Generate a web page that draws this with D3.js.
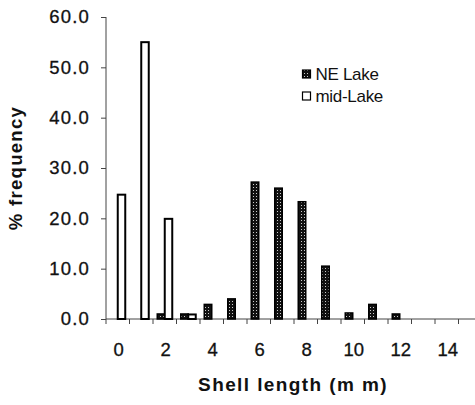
<!DOCTYPE html>
<html>
<head>
<meta charset="utf-8">
<script src="https://cdn.jsdelivr.net/npm/d3@7"></script>
<style>
  html, body { margin: 0; padding: 0; background: #fff; }
  svg { display: block; }
  text { font-family: "Liberation Sans", Arial, sans-serif; fill: #111; }
</style>
</head>
<body>
<svg id="chart" width="475" height="405"></svg>
<script>
const categories = [0, 1, 2, 3, 4, 5, 6, 7, 8, 9, 10, 11, 12, 13, 14, 15];
const neLake  = [0, 0, 1.0, 1.0, 2.9, 4.0, 27.2, 26.0, 23.3, 10.5, 1.2, 2.9, 1.0, 0, 0, 0];
const midLake = [24.7, 55.0, 19.9, 0.9, 0, 0, 0, 0, 0, 0, 0, 0, 0, 0, 0, 0];
const yTicks = [0, 10, 20, 30, 40, 50, 60];
const xLabels = [0, 2, 4, 6, 8, 10, 12, 14];
const seriesNames = ["NE Lake", "mid-Lake"];

const svg = d3.select("#chart");

// pattern for NE Lake bars
const defs = svg.append("defs");
const pat = defs.append("pattern").attr("id", "nePat")
  .attr("width", 3).attr("height", 3).attr("patternUnits", "userSpaceOnUse");
pat.append("rect").attr("width", 3).attr("height", 3).attr("fill", "#111");
pat.append("rect").attr("x", 1).attr("y", 1).attr("width", 1).attr("height", 1).attr("fill", "#ccc");

const x = d3.scaleBand().domain(categories).range([106, 482]).padding(0);
const y = d3.scaleLinear().domain([0, 60]).range([319, 17]);
const barW = 7.5;

// Y axis
const yAxis = svg.append("g").attr("transform", "translate(106,0)")
  .call(d3.axisLeft(y).tickValues(yTicks).tickFormat(d3.format(".1f")).tickSize(5).tickPadding(11));
yAxis.select(".domain").attr("stroke", "#444").attr("d", `M0,${y(60)}V${y(0)}`);
yAxis.selectAll(".tick line").attr("stroke", "#444");
yAxis.selectAll(".tick text").attr("font-size", 18.5).attr("letter-spacing", 1.2)
  .attr("stroke", "#111").attr("stroke-width", 0.3)
  .style("font-family", "'Liberation Sans', Arial, sans-serif").attr("fill", "#111");

// X axis
const xAxis = svg.append("g").attr("transform", `translate(0,${y(0)})`)
  .call(d3.axisBottom(x).tickValues(xLabels).tickSize(0).tickPadding(24));
xAxis.select(".domain").attr("stroke", "#444").attr("d", `M106,0H475`);
xAxis.selectAll(".tick text").attr("font-size", 18.5).attr("dx", 1)
  .attr("stroke", "#111").attr("stroke-width", 0.3)
  .style("font-family", "'Liberation Sans', Arial, sans-serif").attr("fill", "#111");
// tick marks at band boundaries
xAxis.selectAll(".bnd").data(categories).enter().append("line")
  .attr("class", "bnd")
  .attr("x1", d => x(d)).attr("x2", d => x(d))
  .attr("y1", 0).attr("y2", 5).attr("stroke", "#444");

// bars
const bars = svg.append("g");
bars.selectAll(".ne").data(categories.filter((c, i) => neLake[i] > 0)).enter().append("rect")
  .attr("class", "ne")
  .attr("x", d => x(d) + x.bandwidth() / 2 - barW)
  .attr("width", barW)
  .attr("y", d => y(neLake[d]))
  .attr("height", d => y(0) - y(neLake[d]))
  .attr("fill", "url(#nePat)").attr("stroke", "#000").attr("stroke-width", 1.5);
bars.selectAll(".mid").data(categories.filter((c, i) => midLake[i] > 0)).enter().append("rect")
  .attr("class", "mid")
  .attr("x", d => x(d) + x.bandwidth() / 2)
  .attr("width", barW)
  .attr("y", d => y(midLake[d]))
  .attr("height", d => y(0) - y(midLake[d]))
  .attr("fill", "#fff").attr("stroke", "#000").attr("stroke-width", 2);

// axis titles
svg.append("text")
  .attr("transform", `translate(22,168) rotate(-90)`)
  .attr("text-anchor", "middle")
  .attr("font-size", 18.5).attr("font-weight", "bold").attr("letter-spacing", 1.3)
  .text("% frequency");
svg.append("text")
  .attr("x", 293).attr("y", 391)
  .attr("text-anchor", "middle")
  .attr("font-size", 19).attr("font-weight", "bold").attr("letter-spacing", 1.4)
  .text("Shell length (m m)");

// legend
const leg = svg.append("g");
seriesNames.forEach((name, i) => {
  const ly = 70 + i * 22;
  leg.append("rect").attr("x", 302.5).attr("y", ly).attr("width", 8).attr("height", 8)
    .attr("fill", i === 0 ? "url(#nePat)" : "#fff").attr("stroke", "#000").attr("stroke-width", 1.2);
  leg.append("text").attr("x", 315.5).attr("y", ly + 9.5)
    .attr("font-size", 17).attr("letter-spacing", -0.3).text(name);
});
</script>
</body>
</html>
